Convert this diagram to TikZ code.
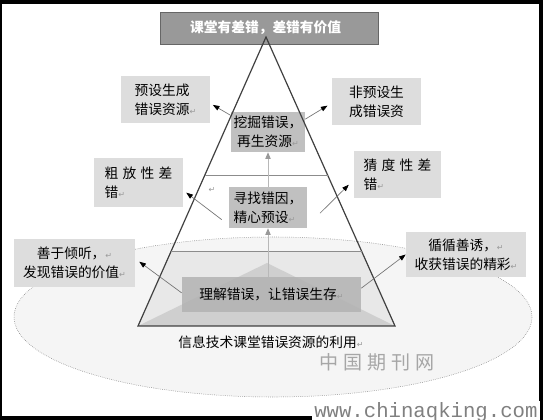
\documentclass[tikz,border=0pt]{standalone}
\usepackage{fontspec}
\usepackage{xcolor}
\usepackage{tikz}
\usetikzlibrary{arrows.meta, calc}
\setmainfont{Noto Sans CJK SC}
\newfontfamily\symfont{DejaVu Sans}
\newfontfamily\sitefont{Liberation Mono}
\definecolor{boxLight}{RGB}{221,221,221}
\definecolor{boxMid}{RGB}{192,192,192}
\definecolor{boxDark}{RGB}{178,178,178}
\definecolor{titleGray}{RGB}{153,153,153}
\definecolor{lineGray}{RGB}{115,115,115}
\newcommand{\ret}{{\symfont\fontsize{6}{6}\selectfont\color{black!40}↵}}
\newcommand{\cgap}{\hspace{3.2pt}}

\begin{document}
\begin{tikzpicture}[
  x=0.75pt, y=-0.75pt,
  every node/.style={font=\fontsize{10.3}{14}\selectfont, inner sep=1pt},
  lightbox/.style={fill=boxLight, align=left},
  midbox/.style={fill=boxMid, align=center},
  headbox/.style={
    fill=titleGray,
    draw=black!60,
    text=white,
    font=\fontsize{10.3}{14}\selectfont\bfseries
  },
  ring/.style={draw=black!55, densely dotted, line width=0.4pt, fill=black!4},
  pyr/.style={draw=black!75, line width=0.9pt, line join=miter},
  tier/.style={draw=black!45, line width=0.6pt},
  sidearr/.style={-{Triangle[length=5pt, width=3.6pt, color=black]}, draw=lineGray, line width=0.5pt},
  uparr/.style={-{Triangle[length=5pt, width=4pt, color=black!40]}, draw=black!28, line width=0.6pt},
]

\clip (0,0) rectangle (543,420);
\fill[black] (0,0) rectangle (543,420);
\fill[white] (2,4) rectangle (539,416);

\draw[ring] (273,317) ellipse [x radius=259, y radius=80];

\coordinate (top) at (266,37);
\coordinate (bl) at (138,326);
\coordinate (br) at (395,326);
\coordinate (inner) at (267,263);

\fill[black!9] ($(top)!0.7405!(bl)$) -- ($(top)!0.7405!(br)$) -- (br) -- (bl) -- cycle;
\fill[black!19] (bl) -- (inner) -- (br) -- cycle;

\node[headbox, minimum width=163.5pt, minimum height=24pt] (title) at (269,28)
  {课堂有差错，差错有价值\ret};

\node[lightbox, minimum width=66.75pt, minimum height=35.25pt] (yushe) at (165.5,99.5)
  {预设生成\\错误资源\ret};
\node[lightbox, minimum width=66.75pt, minimum height=35.25pt] (feiyushe) at (376.5,101.5)
  {非预设生\\成错误资};
\node[midbox, minimum width=55.5pt, minimum height=30pt] (wajue) at (268,132)
  {挖掘错误，\\再生资源\ret};

\node[lightbox, minimum width=66.75pt, minimum height=36.75pt] (cufang) at (138.5,182.5)
  {粗\cgap 放\cgap 性\cgap 差\\错\ret};
\node[lightbox, minimum width=65.25pt, minimum height=35.25pt] (caidu) at (397.5,174.5)
  {猜\cgap 度\cgap 性\cgap 差\\错\ret};
\node[midbox, align=left, minimum width=58.5pt, minimum height=30.75pt] (xunzhao) at (268,207.5)
  {寻找错因，\\精心预设\ret};
\node (strayret) at (212,190) {\ret};

\node[lightbox, align=center, minimum width=90.75pt, minimum height=36pt] (shanyu) at (74.5,263)
  {善于倾听，\ret\\发现错误的价值\ret};
\node[lightbox, align=center, minimum width=90pt, minimum height=33.75pt] (xunxun) at (466,254.5)
  {循循善诱，\ret\\收获错误的精彩\ret};
\node[fill=boxDark, fill opacity=0.85, text opacity=1, minimum width=134.25pt, minimum height=26.25pt]
  (lijie) at (271.5,294.5) {理解错误，让错误生存\ret};

\draw[pyr] (top) -- (bl) -- (br) -- cycle;
\draw[tier] ($(top)!0.4775!(bl)$) -- ($(top)!0.4775!(br)$);
\draw[tier] ($(top)!0.7405!(bl)$) -- ($(top)!0.7405!(br)$);

\draw[sidearr, shorten >=2.2pt] (wajue.156) -- (yushe.-5);
\draw[sidearr, shorten >=3.7pt] (wajue.19) -- (feiyushe.182);
\draw[sidearr, shorten <=6.6pt, shorten >=2.8pt] (xunzhao.204) -- (cufang.-10);
\draw[sidearr, shorten <=13.5pt, shorten >=5.2pt] (xunzhao.-25) -- (caidu.187);
\draw[sidearr, shorten >=3.7pt] (lijie.179) -- (shanyu.4);
\draw[sidearr] (lijie.4) -- (xunxun.west);
\draw[uparr] (lijie.north -| xunzhao.south) -- (xunzhao.south);
\draw[uparr] (xunzhao.north) -- (wajue.south);

\node (caption) at (271,342) {信息技术课堂错误资源的利用\ret};

\node[text=black!35, font=\fontsize{14.3}{16}\selectfont] (cnwm) at (377,362)
  {中\hspace{3.7pt}国\hspace{3.7pt}期\hspace{3.7pt}刊\hspace{3.7pt}网};
\node[anchor=base west, fill=white, inner xsep=1.5pt, inner ysep=1pt, text=black!50,
  font=\sitefont\fontsize{15.5}{16}\selectfont] (site) at (312,417) {www.chinaqking.com};

\end{tikzpicture}
\end{document}
